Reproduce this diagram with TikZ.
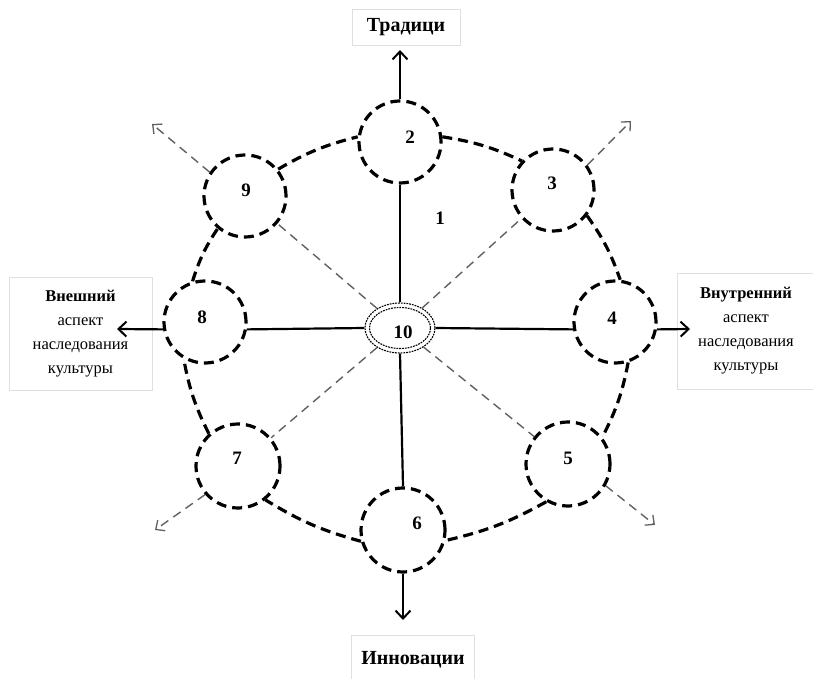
\documentclass[tikz,border=0pt]{standalone}
\usepackage{fontspec}
\setmainfont{Liberation Serif}
\usetikzlibrary{arrows.meta,shapes.geometric}
\begin{document}
\begin{tikzpicture}[x=1pt,y=1pt,
  bub/.style={circle, minimum size=82pt, inner sep=0pt,
    preaction={draw=gray!20,line width=0.6pt},
    draw, line width=3.2pt, dash pattern=on 10pt off 6pt},
  ring/.style={preaction={draw=gray!20,line width=0.6pt,solid},
    draw, line width=3.2pt, dash pattern=on 10pt off 6pt},
  num/.style={font=\fontsize{19}{19}\selectfont\bfseries},
  axis/.style={draw, line width=2.2pt},
  axarrow/.style={axis, -{Straight Barb[length=8pt,width=15pt,line width=2pt]}},
  thinline/.style={draw=black!62, line width=1.4pt, dash pattern=on 9pt off 6pt},
  thinarrow/.style={thinline, -{Straight Barb[length=7pt,width=13pt,line width=1.3pt]}},
  lbox/.style={draw=gray!25, line width=0.6pt, inner sep=0pt, align=center},
  boxtext/.style={font=\fontsize{16.5}{24}\selectfont}
]
\useasboundingbox (0,0) rectangle (813,678);

% outer labels
\node[lbox, minimum width=108pt, minimum height=36pt, font=\fontsize{20}{20}\selectfont\bfseries] (trad) at (406,651) {Традици};
\node[lbox, minimum width=123pt, minimum height=50pt, font=\fontsize{20}{20}\selectfont\bfseries] (innov) at (413,18) {Инновации};
\node[lbox, minimum width=143pt, minimum height=113pt, boxtext] (ext) at (80.5,344.5)
  {\textbf{Внешний}\\аспект\\наследования\\культуры};
\node[lbox, minimum width=138pt, minimum height=116pt, boxtext] (int) at (746,347)
  {\textbf{Внутренний}\\аспект\\наследования\\культуры};

% circles
\node[bub] (c2) at (400,536) {};
\node[bub] (c3) at (553,488) {};
\node[bub] (c4) at (615,356) {};
\node[bub, minimum size=84pt] (c5) at (568,214) {};
\node[bub, minimum size=84pt] (c6) at (403,148) {};
\node[bub, minimum size=84pt] (c7) at (238,212) {};
\node[bub] (c8) at (205,356) {};
\node[bub] (c9) at (245,482) {};

% centre
\node[ellipse, minimum width=70pt, minimum height=50pt, inner sep=0pt,
  draw, line width=1.1pt, dash pattern=on 1.8pt off 1pt] (e10) at (400,350) {};
\draw[line width=1.1pt, dash pattern=on 1.8pt off 1pt] (e10.center) ellipse (30.5 and 20.5);

% numbers
\node[num] (n2) at (410,541) {2};
\node[num] (n3) at (552,495) {3};
\node[num] (n4) at (612,360) {4};
\node[num] (n5) at (568,220) {5};
\node[num] (n6) at (417,155) {6};
\node[num] (n7) at (237,220) {7};
\node[num] (n8) at (202,361) {8};
\node[num] (n9) at (246,488) {9};
\node[num] (n10) at (403,346) {10};
\node[num] (n1) at (440,460) {1};

% ring
\draw[ring] (c9.39) to[bend left=8] (c2.173);
\draw[ring] (c2.7) to[bend left=8] (c3.137);
\draw[ring] (c3.-37) to[bend left=8] (c4.83);
\draw[ring] (c4.-72) to[bend left=8] (c5.38);
\draw[ring] (c5.-120) to[bend left=8] (c6.-14);
\draw[ring] (c6.-165) to[bend left=8] (c7.-51);
\draw[ring] (c7.132) to[bend left=8] (c8.-120);
\draw[ring] (c8.107) to[bend left=8] (c9.-130);

% axes
\draw[axis] (e10.north) -- (c2.south);
\draw[axis] (e10.south) -- (c6.north);
\draw[axis] (e10.west) -- (c8.-10);
\draw[axis] (e10.east) -- (c4.190);
\coordinate (up) at (400,628);
\coordinate (down) at (403,58);
\coordinate (left) at (117,349);
\coordinate (right) at (690,349);
\draw[axarrow] (c2.north) -- (up);
\draw[axarrow] (c6.south) -- (down);
\draw[axarrow] (c8.190) -- (left);
\draw[axarrow] (c4.-10) -- (right);

% diagonals
\draw[thinline] (e10) -- (c9);
\draw[thinline] (e10) -- (c3);
\draw[thinline] (e10) -- (c5);
\draw[thinline] (e10) -- (c7);
\coordinate (d9) at (152,554);
\coordinate (d3) at (631,557);
\coordinate (d5) at (655,153);
\coordinate (d7) at (155,148);
\draw[thinarrow] (c9.146) -- (d9);
\draw[thinarrow] (c3.36) -- (d3);
\draw[thinarrow] (c5.-30) -- (d5);
\draw[thinarrow] (c7.-139) -- (d7);
\end{tikzpicture}
\end{document}
